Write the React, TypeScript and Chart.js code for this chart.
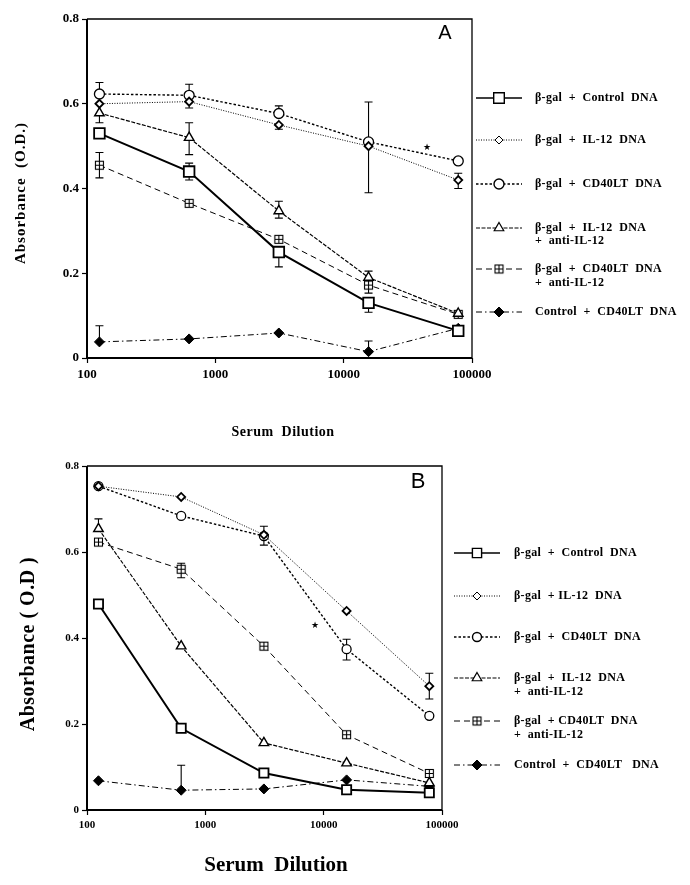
import React, { useEffect, useRef } from 'react';
import Chart from 'chart.js/auto';
import { drawPoint } from 'chart.js/helpers';

// ---------- DATA ----------
const dilutions = [125, 625, 3125, 15625, 78125];
const xTickValues = [100, 1000, 10000, 100000];
const yTickValues = [0, 0.2, 0.4, 0.6, 0.8];

// Panel A
const aCtrl = [0.53, 0.44, 0.25, 0.13, 0.064];
const aIL12 = [0.6, 0.605, 0.55, 0.5, 0.42];
const aCD40 = [0.623, 0.62, 0.577, 0.51, 0.465];
const aIL12anti = [0.578, 0.52, 0.347, 0.19, 0.105];
const aCD40anti = [0.455, 0.365, 0.28, 0.172, 0.103];
const aCtrlCD40 = [0.038, 0.045, 0.059, 0.015, 0.07];

const aCtrlUp = [null, 0.46, null, null, null];
const aCtrlDown = [null, 0.42, 0.215, 0.108, null];
const aIL12Up = [null, null, null, null, 0.436];
const aIL12Down = [null, 0.59, 0.54, null, 0.4];
const aCD40Up = [0.65, 0.646, 0.595, 0.604, null];
const aCD40Down = [null, null, null, 0.39, null];
const aIL12antiUp = [null, 0.555, 0.37, 0.205, null];
const aIL12antiDown = [0.555, 0.48, 0.33, null, null];
const aCD40antiUp = [0.485, null, null, null, null];
const aCD40antiDown = [0.425, null, null, 0.153, null];
const aCtrlCD40Up = [0.076, null, null, 0.04, null];
const aCtrlCD40Down = [null, null, null, null, null];

// Panel B
const bCtrl = [0.479, 0.19, 0.086, 0.047, 0.04];
const bIL12 = [0.753, 0.728, 0.64, 0.463, 0.288];
const bCD40 = [0.753, 0.684, 0.637, 0.374, 0.219];
const bIL12anti = [0.654, 0.381, 0.156, 0.109, 0.063];
const bCD40anti = [0.623, 0.56, 0.381, 0.175, 0.085];
const bCtrlCD40 = [0.068, 0.046, 0.049, 0.07, 0.055];

const bCtrlUp = [null, null, null, null, null];
const bCtrlDown = [null, null, null, null, null];
const bIL12Up = [null, null, 0.66, null, 0.318];
const bIL12Down = [null, null, null, null, 0.258];
const bCD40Up = [null, null, null, 0.397, null];
const bCD40Down = [null, null, 0.616, 0.349, null];
const bIL12antiUp = [0.677, null, null, null, null];
const bIL12antiDown = [null, null, null, null, null];
const bCD40antiUp = [null, 0.574, null, null, null];
const bCD40antiDown = [null, 0.54, null, null, null];
const bCtrlCD40Up = [null, 0.104, null, null, null];
const bCtrlCD40Down = [null, null, null, null, null];

const labelsA = [
  ['β-gal  +  Control  DNA'],
  ['β-gal  +  IL-12  DNA'],
  ['β-gal  +  CD40LT  DNA'],
  ['β-gal  +  IL-12  DNA', '+  anti-IL-12'],
  ['β-gal  +  CD40LT  DNA', '+  anti-IL-12'],
  ['Control  +  CD40LT  DNA'],
];
const labelsB = [
  ['β-gal  +  Control  DNA'],
  ['β-gal  + IL-12  DNA'],
  ['β-gal  +  CD40LT  DNA'],
  ['β-gal  +  IL-12  DNA', '+  anti-IL-12'],
  ['β-gal  + CD40LT  DNA', '+  anti-IL-12'],
  ['Control  +  CD40LT   DNA'],
];

const starA = { x: 44700, y: 0.496 };
const starB = { x: 8450, y: 0.428 };

// ---------- HELPERS ----------
function boxPlusCanvas(size: number, lw: number) {
  const c = document.createElement('canvas');
  const s = size + 2;
  c.width = s;
  c.height = s;
  const ctx = c.getContext('2d')!;
  ctx.fillStyle = '#fff';
  ctx.fillRect(1, 1, size, size);
  ctx.strokeStyle = '#000';
  ctx.lineWidth = lw;
  ctx.strokeRect(1.5, 1.5, size - 1, size - 1);
  ctx.beginPath();
  ctx.moveTo(s / 2, 1.5);
  ctx.lineTo(s / 2, s - 1.5);
  ctx.moveTo(1.5, s / 2);
  ctx.lineTo(s - 1.5, s / 2);
  ctx.stroke();
  return c;
}

type Style = {
  pointStyle: any;
  radius: number;
  pbw: number;
  fill: string;
  dash: number[];
  lw: number;
};

function stylesFor(big: boolean): Style[] {
  return [
    { pointStyle: 'rect', radius: big ? 7.5 : 6.5, pbw: 1.8, fill: '#fff', dash: [], lw: 2 },
    { pointStyle: 'rectRot', radius: 4, pbw: 1.8, fill: '#fff', dash: [1, 1.5], lw: 1 },
    { pointStyle: 'circle', radius: big ? 5 : 4.5, pbw: 1.3, fill: '#fff', dash: [2.5, 2], lw: 1.4 },
    { pointStyle: 'triangle', radius: 5.5, pbw: 1.4, fill: '#fff', dash: [4, 1.5], lw: 1.2 },
    { pointStyle: boxPlusCanvas(big ? 9 : 9, 1.1), radius: 5, pbw: 1, fill: '#fff', dash: [6, 4], lw: 1 },
    { pointStyle: 'rectRot', radius: 5, pbw: 1, fill: '#000', dash: [6, 3, 1.5, 3], lw: 1 },
  ];
}

type Panel = {
  width: number;
  height: number;
  area: { left: number; right: number; top: number; bottom: number };
  series: number[][];
  ups: (number | null)[][];
  downs: (number | null)[][];
  labels: string[][];
  letter: string;
  letterPos: [number, number];
  letterFont: string;
  star: { x: number; y: number };
  tickFont: number;
  yTitle: string;
  yTitleFont: string;
  yTitleSpacing: string;
  yTitlePos: [number, number];
  xTitle: string;
  xTitleFont: string;
  xTitleSpacing: string;
  xTitlePos: [number, number];
  legend: { x0: number; x1: number; textX: number; rows: number[][]; font: string; spacing: string };
  big: boolean;
};

function makeConfig(p: Panel): any {
  const styles = stylesFor(p.big);
  const datasets = p.series.map((vals, i) => {
    const s = styles[i];
    return {
      label: p.labels[i].join(' '),
      data: vals.map((v, j) => ({ x: dilutions[j], y: v })),
      borderColor: '#000',
      borderWidth: s.lw,
      borderDash: s.dash,
      backgroundColor: s.fill,
      pointStyle: s.pointStyle,
      pointRadius: s.radius,
      pointBorderWidth: s.pbw,
      pointBorderColor: '#000',
      pointBackgroundColor: s.fill,
      tension: 0,
      fill: false,
    };
  });

  const plugin = {
    id: 'panelDecor',
    beforeDatasetsDraw(chart: any) {
      const ctx = chart.ctx;
      const ys = chart.scales.y;
      ctx.save();
      ctx.strokeStyle = '#000';
      ctx.lineWidth = 1.1;
      p.series.forEach((_, i) => {
        const meta = chart.getDatasetMeta(i);
        meta.data.forEach((pt: any, j: number) => {
          [p.ups[i][j], p.downs[i][j]].forEach((e) => {
            if (e === null || e === undefined) return;
            const yy = ys.getPixelForValue(e);
            ctx.beginPath();
            ctx.moveTo(pt.x, pt.y);
            ctx.lineTo(pt.x, yy);
            ctx.moveTo(pt.x - 4, yy);
            ctx.lineTo(pt.x + 4, yy);
            ctx.stroke();
          });
        });
      });
      ctx.restore();
    },
    afterDatasetsDraw(chart: any) {
      const ctx = chart.ctx;
      const a = chart.chartArea;
      ctx.save();
      ctx.strokeStyle = '#000';
      ctx.lineWidth = 1.3;
      ctx.beginPath();
      ctx.moveTo(a.left, a.top);
      ctx.lineTo(a.right, a.top);
      ctx.lineTo(a.right, a.bottom);
      ctx.stroke();
      ctx.lineWidth = 2;
      ctx.beginPath();
      ctx.moveTo(a.left, a.top);
      ctx.lineTo(a.left, a.bottom);
      ctx.lineTo(a.right, a.bottom);
      ctx.stroke();
      ctx.restore();
    },
    afterDraw(chart: any) {
      const ctx = chart.ctx;
      const xs = chart.scales.x;
      const ys = chart.scales.y;
      ctx.save();
      ctx.fillStyle = '#000';
      // panel letter
      ctx.font = p.letterFont;
      ctx.textAlign = 'center';
      ctx.textBaseline = 'middle';
      ctx.fillText(p.letter, p.letterPos[0], p.letterPos[1]);
      // star
      ctx.font = '9px "DejaVu Sans"';
      ctx.fillText('★', xs.getPixelForValue(p.star.x), ys.getPixelForValue(p.star.y));
      // axis titles
      ctx.font = p.xTitleFont;
      (ctx as any).letterSpacing = p.xTitleSpacing;
      ctx.fillText(p.xTitle, p.xTitlePos[0], p.xTitlePos[1]);
      ctx.save();
      ctx.translate(p.yTitlePos[0], p.yTitlePos[1]);
      ctx.rotate(-Math.PI / 2);
      ctx.font = p.yTitleFont;
      (ctx as any).letterSpacing = p.yTitleSpacing;
      ctx.fillText(p.yTitle, 0, 0);
      ctx.restore();
      // legend
      const L = p.legend;
      ctx.textAlign = 'left';
      ctx.font = L.font;
      (ctx as any).letterSpacing = L.spacing;
      p.labels.forEach((lines, i) => {
        const s = styles[i];
        const y = L.rows[i][0];
        ctx.save();
        ctx.strokeStyle = '#000';
        ctx.lineWidth = Math.min(s.lw, 1.4);
        ctx.setLineDash(s.dash.length ? s.dash : []);
        ctx.beginPath();
        ctx.moveTo(L.x0, y);
        ctx.lineTo(L.x1, y);
        ctx.stroke();
        ctx.setLineDash([]);
        ctx.fillStyle = s.fill;
        ctx.strokeStyle = '#000';
        drawPoint(ctx, { pointStyle: s.pointStyle, radius: s.radius, borderWidth: s.pbw, rotation: 0 } as any, (L.x0 + L.x1) / 2, y);
        ctx.restore();
        lines.forEach((t, k) => {
          ctx.fillText(t, L.textX, L.rows[i][k]);
        });
      });
      ctx.restore();
    },
  };

  const tickFont = { family: '"Liberation Serif", "Times New Roman", serif', weight: 'bold' as const, size: p.tickFont };
  const gridCfg = { display: true, drawOnChartArea: false, drawTicks: true, tickLength: 5, tickColor: '#000', tickWidth: 1.2 };

  return {
    type: 'line',
    data: { datasets },
    plugins: [plugin],
    options: {
      responsive: false,
      maintainAspectRatio: false,
      animation: false,
      events: [],
      layout: {
        padding: {
          left: 0,
          top: p.area.top,
          right: p.width - p.area.right,
          bottom: p.height - p.area.bottom - 50,
        },
      },
      plugins: { legend: { display: false }, tooltip: { enabled: false } },
      scales: {
        x: {
          type: 'logarithmic',
          min: 100,
          max: 100000,
          afterBuildTicks: (s: any) => {
            s.ticks = xTickValues.map((v) => ({ value: v }));
          },
          afterFit: (s: any) => {
            s.height = 50;
          },
          ticks: {
            callback: (v: any) => String(v),
            font: tickFont,
            color: '#000',
            padding: 4,
            maxRotation: 0,
            autoSkip: false,
          },
          grid: gridCfg,
          border: { display: false },
        },
        y: {
          type: 'linear',
          min: 0,
          max: 0.8,
          afterBuildTicks: (s: any) => {
            s.ticks = yTickValues.map((v) => ({ value: v }));
          },
          afterFit: (s: any) => {
            s.width = p.area.left;
          },
          ticks: {
            callback: (v: any) => (Number(v) === 0 ? '0' : Number(v).toFixed(1)),
            font: tickFont,
            color: '#000',
            padding: 3,
          },
          grid: gridCfg,
          border: { display: false },
        },
      },
    },
  };
}

const panelA: Panel = {
  width: 690,
  height: 445,
  area: { left: 87, right: 472, top: 19, bottom: 358 },
  series: [aCtrl, aIL12, aCD40, aIL12anti, aCD40anti, aCtrlCD40],
  ups: [aCtrlUp, aIL12Up, aCD40Up, aIL12antiUp, aCD40antiUp, aCtrlCD40Up],
  downs: [aCtrlDown, aIL12Down, aCD40Down, aIL12antiDown, aCD40antiDown, aCtrlCD40Down],
  labels: labelsA,
  letter: 'A',
  letterPos: [445, 33],
  letterFont: '20px "Liberation Sans", Arial, sans-serif',
  star: starA,
  tickFont: 13,
  yTitle: 'Absorbance  (O.D.)',
  yTitleFont: 'bold 15px "Liberation Serif", serif',
  yTitleSpacing: '1px',
  yTitlePos: [21, 193],
  xTitle: 'Serum  Dilution',
  xTitleFont: 'bold 14px "Liberation Serif", serif',
  xTitleSpacing: '0.5px',
  xTitlePos: [283, 432],
  legend: {
    x0: 476,
    x1: 522,
    textX: 535,
    rows: [[98], [140], [184], [228, 241], [269, 283], [312]],
    font: 'bold 12px "Liberation Serif", serif',
    spacing: '0.3px',
  },
  big: true,
};

const panelB: Panel = {
  width: 690,
  height: 440,
  area: { left: 87, right: 442, top: 21, bottom: 365 },
  series: [bCtrl, bIL12, bCD40, bIL12anti, bCD40anti, bCtrlCD40],
  ups: [bCtrlUp, bIL12Up, bCD40Up, bIL12antiUp, bCD40antiUp, bCtrlCD40Up],
  downs: [bCtrlDown, bIL12Down, bCD40Down, bIL12antiDown, bCD40antiDown, bCtrlCD40Down],
  labels: labelsB,
  letter: 'B',
  letterPos: [418, 37],
  letterFont: '22px "Liberation Sans", Arial, sans-serif',
  star: starB,
  tickFont: 11,
  yTitle: 'Absorbance ( O.D )',
  yTitleFont: 'bold 20px "Liberation Serif", serif',
  yTitleSpacing: '0.5px',
  yTitlePos: [29, 199],
  xTitle: 'Serum  Dilution',
  xTitleFont: 'bold 21px "Liberation Serif", serif',
  xTitleSpacing: '0px',
  xTitlePos: [276, 421],
  legend: {
    x0: 454,
    x1: 500,
    textX: 514,
    rows: [[108], [151], [192], [233, 247], [276, 290], [320]],
    font: 'bold 12px "Liberation Serif", serif',
    spacing: '0.3px',
  },
  big: false,
};

function PanelChart({ panel, top }: { panel: Panel; top: number }) {
  const ref = useRef<HTMLCanvasElement | null>(null);
  useEffect(() => {
    if (!ref.current) return;
    const chart = new Chart(ref.current, makeConfig(panel));
    return () => chart.destroy();
  }, [panel]);
  return (
    <canvas
      ref={ref}
      width={panel.width}
      height={panel.height}
      style={{ position: 'absolute', left: 0, top, width: panel.width, height: panel.height, display: 'block' }}
    />
  );
}

export default function App() {
  return (
    <div style={{ position: 'absolute', left: 0, top: 0, width: 690, height: 885, background: '#fff' }}>
      <PanelChart panel={panelA} top={0} />
      <PanelChart panel={panelB} top={445} />
    </div>
  );
}
